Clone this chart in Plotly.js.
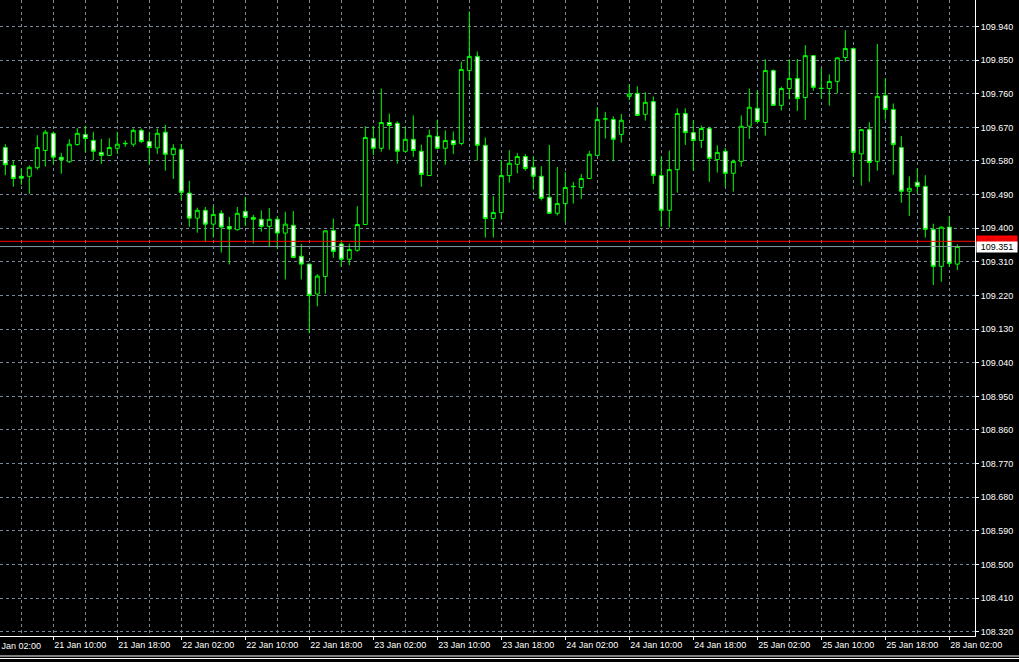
<!DOCTYPE html>
<html>
<head>
<meta charset="utf-8">
<script src="https://cdn.plot.ly/plotly-3.0.1.min.js"></script>
<style>html,body{margin:0;padding:0;background:#000;overflow:hidden}#chart{width:1019px;height:662px}</style>
</head>
<body>
<div id="chart"></div>
<script>
// Hourly USDJPY-style bars, 21 Jan 04:00 .. 28 Jan 03:00 (weekend skipped)
const open = [109.616,109.568,109.539,109.539,109.562,109.608,109.654,109.590,109.578,109.624,
109.651,109.635,109.603,109.595,109.614,109.626,109.625,109.662,109.632,109.615,
109.657,109.597,109.611,109.494,109.427,109.448,109.411,109.440,109.405,109.396,
109.445,109.429,109.424,109.405,109.424,109.387,109.408,109.325,109.304,109.224,
109.271,109.394,109.358,109.317,109.341,109.410,109.640,109.614,109.683,109.681,
109.606,109.638,109.606,109.541,109.646,109.614,109.635,109.627,109.822,109.860,
109.622,109.426,109.442,109.541,109.571,109.592,109.563,109.539,109.483,109.440,
109.466,109.511,109.509,109.533,109.595,109.692,109.691,109.651,109.753,109.761,
109.705,109.739,109.541,109.448,109.557,109.707,109.656,109.635,109.667,109.584,
109.606,109.547,109.579,109.673,109.721,109.683,109.822,109.729,109.774,109.801,
109.750,109.862,109.775,109.774,109.793,109.857,109.881,109.599,109.664,109.579,
109.755,109.718,109.616,109.499,109.523,109.512,109.397,109.298,109.403,109.304];
const high = [109.625,109.581,109.560,109.568,109.649,109.663,109.659,109.602,109.638,109.668,
109.674,109.658,109.639,109.641,109.658,109.635,109.667,109.667,109.658,109.667,
109.677,109.625,109.625,109.527,109.455,109.457,109.459,109.448,109.430,109.457,
109.484,109.436,109.448,109.454,109.432,109.444,109.446,109.358,109.305,109.277,
109.394,109.426,109.367,109.359,109.459,109.673,109.673,109.774,109.707,109.686,
109.672,109.702,109.624,109.664,109.691,109.662,109.659,109.846,109.980,109.873,
109.643,109.486,109.582,109.609,109.601,109.598,109.592,109.566,109.623,109.564,
109.550,109.524,109.545,109.607,109.724,109.711,109.700,109.706,109.786,109.780,
109.764,109.753,109.592,109.608,109.721,109.721,109.689,109.675,109.672,109.622,
109.615,109.584,109.702,109.774,109.769,109.852,109.825,109.779,109.852,109.853,
109.890,109.863,109.828,109.812,109.857,109.930,109.884,109.665,109.684,109.893,
109.801,109.734,109.647,109.539,109.560,109.542,109.412,109.405,109.433,109.357];
const low = [109.542,109.511,109.516,109.492,109.557,109.565,109.572,109.546,109.575,109.621,
109.603,109.583,109.572,109.593,109.599,109.618,109.618,109.628,109.571,109.599,
109.554,109.532,109.474,109.404,109.388,109.363,109.375,109.335,109.303,109.394,
109.406,109.359,109.391,109.351,109.344,109.263,109.321,109.263,109.119,109.191,
109.225,109.321,109.297,109.301,109.337,109.409,109.596,109.605,109.610,109.573,
109.603,109.591,109.511,109.540,109.611,109.570,109.599,109.622,109.796,109.581,
109.375,109.375,109.423,109.522,109.547,109.554,109.503,109.474,109.439,109.434,
109.416,109.466,109.479,109.532,109.594,109.640,109.579,109.629,109.743,109.701,
109.688,109.519,109.404,109.402,109.495,109.623,109.554,109.615,109.524,109.549,
109.511,109.498,109.565,109.639,109.680,109.648,109.728,109.715,109.745,109.714,
109.690,109.768,109.747,109.728,109.761,109.846,109.538,109.514,109.524,109.554,
109.691,109.543,109.468,109.433,109.493,109.375,109.248,109.257,109.297,109.288];
const close = [109.570,109.533,109.534,109.563,109.616,109.657,109.590,109.583,109.625,109.654,
109.640,109.606,109.595,109.616,109.625,109.627,109.662,109.632,109.616,109.654,
109.598,109.614,109.496,109.427,109.448,109.411,109.437,109.403,109.398,109.440,
109.429,109.424,109.405,109.424,109.387,109.411,109.322,109.304,109.220,109.272,
109.393,109.338,109.317,109.343,109.410,109.643,109.614,109.683,109.675,109.606,
109.638,109.608,109.544,109.648,109.614,109.635,109.624,109.825,109.860,109.622,
109.426,109.442,109.541,109.574,109.592,109.560,109.539,109.480,109.440,109.466,
109.509,109.512,109.533,109.598,109.691,109.693,109.638,109.689,109.759,109.702,
109.737,109.541,109.448,109.557,109.707,109.656,109.635,109.667,109.587,109.603,
109.547,109.579,109.673,109.724,109.686,109.822,109.729,109.774,109.801,109.747,
109.862,109.777,109.774,109.793,109.856,109.881,109.603,109.664,109.576,109.753,
109.718,109.624,109.499,109.507,109.512,109.397,109.298,109.403,109.306,109.351];

// time axis labels (bar index of each label; index 0 = 21 Jan 04:00)
const xTickIdx = [-2,6,14,22,30,38,46,54,62,70,78,86,94,102,110,118];
const xTickText = ["21 Jan 02:00","21 Jan 10:00","21 Jan 18:00","22 Jan 02:00","22 Jan 10:00",
"22 Jan 18:00","23 Jan 02:00","23 Jan 10:00","23 Jan 18:00","24 Jan 02:00","24 Jan 10:00",
"24 Jan 18:00","25 Jan 02:00","25 Jan 10:00","25 Jan 18:00","28 Jan 02:00"];
const yTickVals = [109.940,109.850,109.760,109.670,109.580,109.490,109.400,109.310,109.220,109.130,
109.040,108.950,108.860,108.770,108.680,108.590,108.500,108.410,108.320];
const yTickText = ["109.940","109.850","109.760","109.670","109.580","109.490","109.400","109.310","109.220","109.130",
"109.040","108.950","108.860","108.770","108.680","108.590","108.500","108.410","108.320"];
const bidPrice = 109.351;
const askPrice = 109.365;

const W = 1019, H = 662;
const margin = {l: 0, r: 44, t: 0, b: 26};
const pxPerBar = 8;
const xRange = [-0.6625, -0.6625 + (W - margin.l - margin.r) / pxPerBar];
const yRange = [108.3086, 110.0109];
const GRID = '#778899';
const LIME = '#00ff00';
const FONT = 'Liberation Sans, Arial, sans-serif';

const xIdx = open.map((_, i) => i);

const trace = {
  type: 'candlestick',
  x: xIdx, open: open, high: high, low: low, close: close,
  increasing: {line: {color: LIME, width: 1}, fillcolor: '#000000'},
  decreasing: {line: {color: LIME, width: 1}, fillcolor: '#ffffff'},
  whiskerwidth: 0,
  hoverinfo: 'skip',
  showlegend: false
};

const visIdx = xTickIdx.filter(v => v >= xRange[0]);
const visText = xTickText.filter((t, i) => xTickIdx[i] >= xRange[0]);
const firstIdx = xTickIdx[0];

const layout = {
  width: W, height: H, margin: margin,
  paper_bgcolor: '#000000', plot_bgcolor: '#000000',
  showlegend: false,
  boxgap: 0.3,
  font: {family: FONT, size: 9, color: '#ffffff'},
  xaxis: {
    range: xRange, rangeslider: {visible: false}, fixedrange: true,
    tickmode: 'array', tickvals: visIdx, ticktext: visText,
    ticklabelposition: 'outside right',
    ticks: 'outside', ticklen: 3, tickcolor: '#ffffff', tickwidth: 1,
    tickfont: {family: FONT, size: 9, color: '#ffffff'},
    showgrid: true, gridcolor: GRID, gridwidth: 1, griddash: '3px,3px',
    minor: {tick0: 2, dtick: 4, showgrid: true, gridcolor: GRID, gridwidth: 1, griddash: '3px,3px', ticks: ''},
    showline: true, linecolor: '#ffffff', linewidth: 1,
    zeroline: false
  },
  yaxis: {
    side: 'right', range: yRange, fixedrange: true,
    tickmode: 'array', tickvals: yTickVals, ticktext: yTickText,
    ticks: 'outside', ticklen: 3, tickcolor: '#ffffff', tickwidth: 1,
    tickfont: {family: FONT, size: 9, color: '#ffffff'},
    showgrid: true, gridcolor: GRID, gridwidth: 1, griddash: '3px,3px',
    showline: true, linecolor: '#ffffff', linewidth: 1,
    zeroline: false
  },
  shapes: [
    {type: 'line', xref: 'paper', x0: 0, x1: 1, yref: 'y', y0: askPrice, y1: askPrice,
     line: {color: '#ff0000', width: 1}},
    {type: 'line', xref: 'paper', x0: 0, x1: 1, yref: 'y', y0: bidPrice, y1: bidPrice,
     line: {color: '#8a96a3', width: 1}},
    {type: 'line', xref: 'paper', x0: 0, x1: 1.05, yref: 'paper', y0: -20/636, y1: -20/636,
     line: {color: '#ffffff', width: 1}},
    {type: 'line', xref: 'paper', x0: 0, x1: 1.05, yref: 'paper', y0: -22.5/636, y1: -22.5/636,
     line: {color: '#ffffff', width: 1}}
  ],
  annotations: [
    {xref: 'paper', x: 0, xanchor: 'left', xshift: (firstIdx - xRange[0]) * pxPerBar - 1,
     yref: 'paper', y: 0, yanchor: 'top', yshift: -4,
     text: xTickText[0], showarrow: false, borderpad: 0,
     font: {family: FONT, size: 9, color: '#ffffff'}},
    {xref: 'paper', x: 1, xanchor: 'left', xshift: 1, yref: 'y', y: askPrice, yanchor: 'middle',
     text: askPrice.toFixed(3), showarrow: false, bgcolor: '#ff0000', width: 40, height: 10, borderpad: 0,
     font: {family: FONT, size: 9, color: '#d00000'}},
    {xref: 'paper', x: 1, xanchor: 'left', xshift: 1, yref: 'y', y: bidPrice, yanchor: 'middle',
     text: bidPrice.toFixed(3), showarrow: false, bgcolor: '#ffffff', width: 40, height: 10, borderpad: 0,
     font: {family: FONT, size: 9, color: '#000000'}}
  ]
};

Plotly.newPlot('chart', [trace], layout, {staticPlot: true, displayModeBar: false});
</script>
</body>
</html>
